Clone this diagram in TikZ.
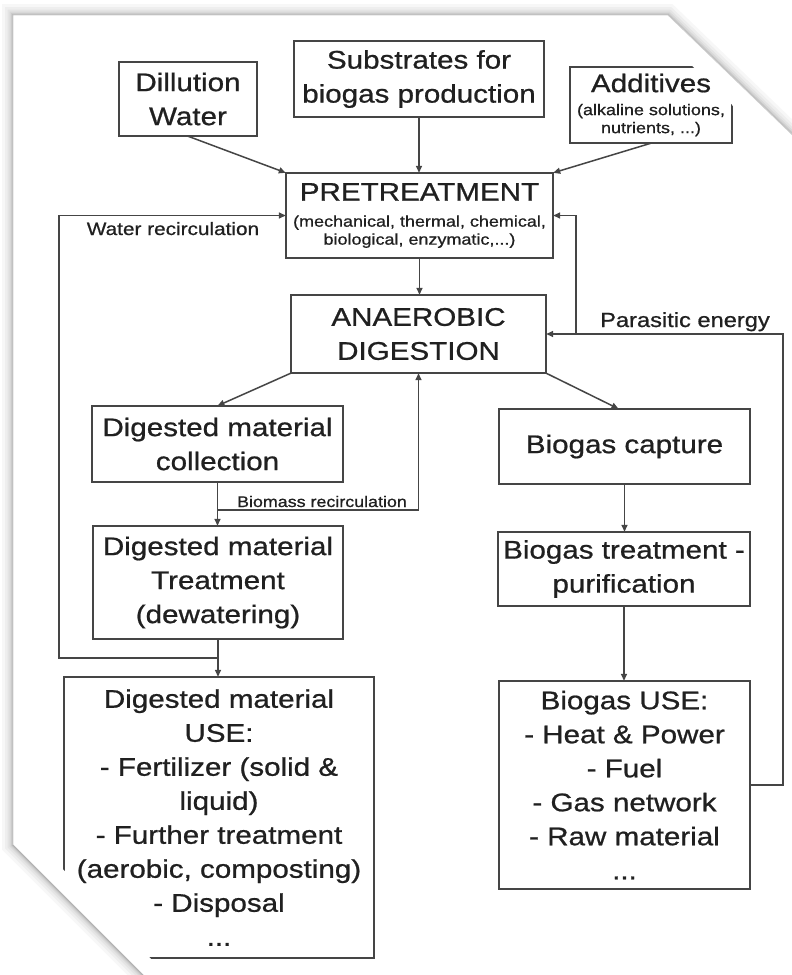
\documentclass[tikz,border=0pt]{standalone}
\usepackage{fontspec}
\setmainfont[FakeStretch=1.16, FakeBold=0.8]{Liberation Sans}
\usetikzlibrary{arrows.meta}
\definecolor{ink}{HTML}{454545}
\definecolor{txt}{HTML}{202020}
\newcommand\smf{\fontsize{15.5}{17}\selectfont}
\tikzset{
  box/.style={inner sep=0pt, align=center, text=txt, font=\fontsize{25.5}{34}\selectfont},
  boxline/.style={draw=ink, line width=1.7pt},
  arr/.style={draw=ink, line width=1.5pt, -{Triangle[length=7pt,width=6pt]}},
  lbl/.style={inner sep=0pt, anchor=base, text=txt},
}
\begin{document}
\begin{tikzpicture}[x=1pt,y=-1pt]
\useasboundingbox (0,0) rectangle (792,975);
\fill[white] (0,0) rectangle (792,975);
% paper with soft shadow
\foreach \w/\o in {22/0.03,16/0.035,11/0.04,7/0.05,4/0.06,2/0.08}{
  \draw[line width=\w pt, draw=black, draw opacity=\o, line join=miter]
    (13,15) -- (668,15) -- (805,147) -- (805,990) -- (158,990) -- (13,845) -- cycle;
}
\fill[white] (13,15) -- (668,15) -- (805,147) -- (805,990) -- (158,990) -- (13,845) -- cycle;
\draw[gray!40, line width=0.8pt] (13,845) -- (13,15) -- (668,15) -- (805,147);
\draw[gray!60, line width=0.8pt] (13,845) -- (158,990);

% nodes
\node[box, minimum width=138pt, minimum height=74pt] (dil) at (188,99) {Dillution\\Water};
\node[box, minimum width=250pt, minimum height=76pt] (sub) at (419,79) {Substrates for\\biogas production};
\node[box, minimum width=162pt, minimum height=76pt] (add) at (651,105) {Additives\\[-11pt]\smf (alkaline solutions,\\[-16pt]\smf nutrients, ...)};
\node[box, minimum width=267pt, minimum height=85pt] (pre) at (419.5,215.5) {PRETREATMENT\\[-8pt]\smf (mechanical, thermal, chemical,\\[-16pt]\smf biological, enzymatic,...)};
\node[box, minimum width=255pt, minimum height=78pt] (ana) at (418.5,334) {ANAEROBIC\\DIGESTION};
\node[box, minimum width=251pt, minimum height=76pt] (col) at (217.5,444) {Digested material\\collection};
\node[box, minimum width=250pt, minimum height=113pt] (trt) at (218,582.5) {Digested material\\Treatment\\(dewatering)};
\node[box, minimum width=310pt, minimum height=281pt] (use) at (219,817.5) {Digested material\\USE:\\- Fertilizer (solid \&\\liquid)\\- Further treatment\\(aerobic, composting)\\- Disposal\\...};
\node[box, minimum width=251pt, minimum height=75pt] (cap) at (624.5,446.5) {Biogas capture};
\node[box, minimum width=252pt, minimum height=74pt] (pur) at (624,569) {Biogas treatment -\\purification};
\node[box, minimum width=251pt, minimum height=208pt] (guse) at (624.5,785) {Biogas USE:\\- Heat \& Power\\- Fuel\\- Gas network\\- Raw material\\...};

% labels
\node[lbl, font=\fontsize{17.9}{20}\selectfont] (lwater) at (173,235) {Water recirculation};
\node[lbl, font=\fontsize{20.4}{22}\selectfont] (lpara) at (685,327) {Parasitic energy};
\node[lbl, font=\fontsize{15.4}{17}\selectfont] (lbio) at (322,507) {Biomass recirculation};

% junction coordinates
\coordinate (wj) at (218,658);
\coordinate (wl) at (59,658);
\coordinate (bj) at (218,510);
\coordinate (pr) at (783,785);
\coordinate (pb) at (576,334);

\begin{scope}
\clip (0,0) -- (624,0) -- (792,163) -- (792,975) -- (167,975) -- (0,805) -- cycle;
\foreach \n in {dil,sub,add,pre,ana,col,trt,use,cap,pur,guse}{
  \draw[boxline] (\n.north west) rectangle (\n.south east);
}
\draw[arr] (dil.south) -- (pre.north west);
\draw[arr] (sub.south) -- (sub.south |- pre.north);
\draw[arr] (add.south) -- (pre.north east);
\draw[arr] (wj) -- (wl) |- (pre.west);
\draw[arr] (pre.south) -- (pre.south |- ana.north);
\draw[arr] (ana.south west) -- (col.north);
\draw[arr] (col.south) -- (col.south |- trt.north);
\draw[arr] (bj) -| (ana.south);
\draw[arr] (trt.south) -- (trt.south |- use.north);
\draw[arr] (ana.south east) -- ([xshift=-6pt]cap.north);
\draw[arr] (cap.south) -- (cap.south |- pur.north);
\draw[arr] (pur.south) -- (pur.south |- guse.north);
\draw[arr] (guse.east) -- (pr) |- (ana.east);
\draw[arr] (pb) |- (pre.east);
\end{scope}
\end{tikzpicture}
\end{document}
